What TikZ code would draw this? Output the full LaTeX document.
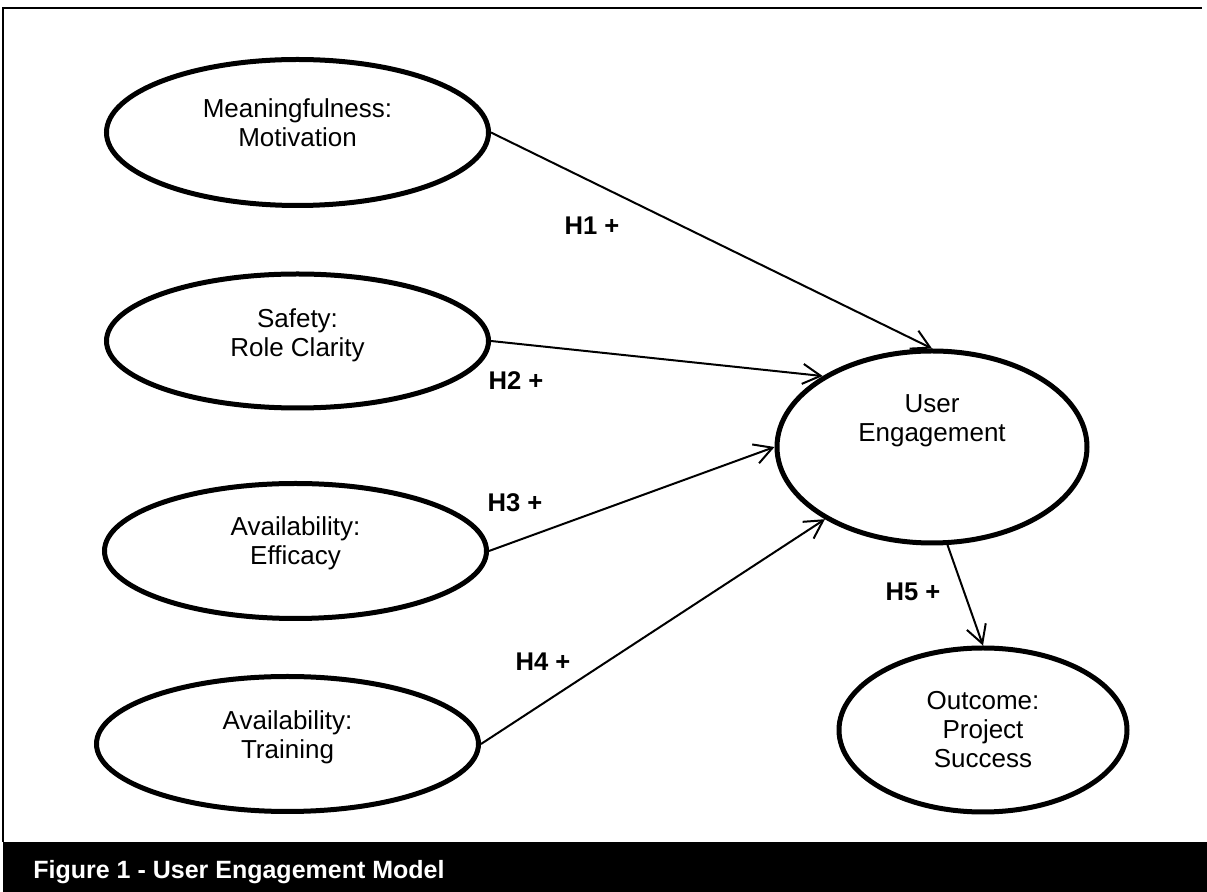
\documentclass[tikz,border=0pt]{standalone}
\usepackage{fontspec}
\setmainfont{Liberation Sans}
\usetikzlibrary{shapes.geometric, arrows.meta}

\begin{document}
\begin{tikzpicture}[x=0.5pt, y=-0.5pt, font=\fontsize{13}{14.5}\selectfont,
  oval/.style={ellipse, draw, line width=2.5pt, inner sep=0pt},
  txt/.style={align=center, inner sep=0pt},
  hyp/.style={font=\fontsize{12.8}{15}\selectfont\bfseries},
  link/.style={line width=1pt, -{Straight Barb[length=9pt, width=10pt]}}]
  \useasboundingbox (0,0) rectangle (1207,892);

  % frame and caption bar
  \draw[line width=1pt] (3,842) -- (3,8) -- (1202,8);
  \fill[black] (3,842) rectangle (1207,892);
  \node[anchor=base west, inner sep=0pt, text=white,
    font=\fontsize{12.5}{15}\selectfont\bfseries]
    (cap) at (33,879) {Figure 1 - User Engagement Model};

  % the four drivers on the left
  \foreach \nm/\xc/\yc/\hh/\up/\txt in {
    mot/297.5/132.5/73/5/{Meaningfulness:\\Motivation},
    saf/297.5/341/67/3/{Safety:\\Role Clarity},
    eff/295.5/551/67.5/4/{Availability:\\Efficacy},
    trn/287.5/744/67.5/3.5/{Availability:\\Training}}
  {
    \node[oval, minimum width=191pt, minimum height=\hh pt] (\nm) at (\xc,\yc) {};
    \node[txt] (\nm-t) at ([yshift=\up pt]\nm.center) {\txt};
  }

  % engagement and outcome
  \node[oval, minimum width=155pt, minimum height=96pt] (eng) at (932,447) {};
  \node[txt] (eng-t) at ([yshift=13pt]eng.center) {User\\Engagement};
  \node[oval, minimum width=144pt, minimum height=82pt] (out) at (983,730) {};
  \node[txt] (out-t) at (out.center) {Outcome:\\Project\\Success};

  % hypotheses
  \draw[link] (mot.east) -- (eng.north);
  \draw[link] (saf.east) -- (eng.147);
  \draw[link] (eff.east) -- (eng.west);
  \draw[link] (trn.east) -- (eng.214);
  \draw[link] (eng.279) -- (out.north);

  \node[hyp] (h1) at (592,226) {H1 +};
  \node[hyp] (h2) at (516,381) {H2 +};
  \node[hyp] (h3) at (515,503) {H3 +};
  \node[hyp] (h4) at (543,662) {H4 +};
  \node[hyp] (h5) at (913,592) {H5 +};
\end{tikzpicture}
\end{document}
